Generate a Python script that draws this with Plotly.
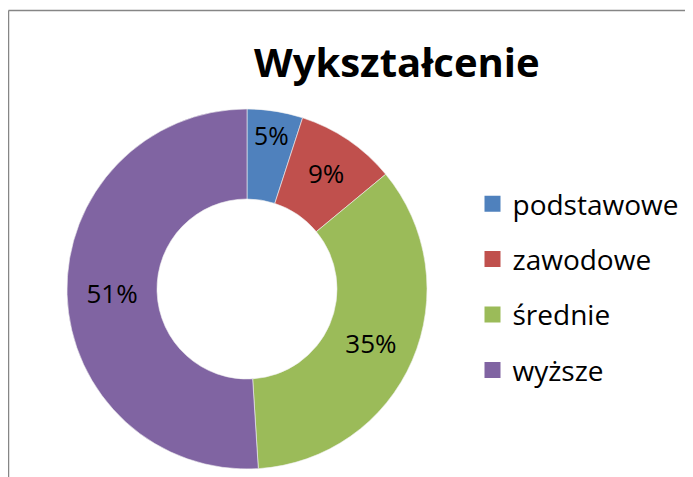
import plotly.graph_objects as go

labels = ["podstawowe", "zawodowe", "średnie", "wyższe"]
values = [5, 9, 35, 51]
colors = ["#4F81BD", "#C0504D", "#9BBB59", "#8064A2"]
title_text = "Wykształcenie"

W, H = 693, 477
OFF = 8  # page body margin

def px(x):
    return (x - OFF) / W

def py(y):
    return 1 - (y - OFF) / H

fig = go.Figure()

fig.add_trace(go.Pie(
    labels=labels,
    values=values,
    marker=dict(colors=colors, line=dict(color="#f0f0f0", width=0.6)),
    hole=0.5,
    sort=False,
    direction="clockwise",
    rotation=0,
    textinfo="percent",
    texttemplate="%{percent:.0%}",
    textposition="inside",
    insidetextorientation="horizontal",
    textfont=dict(family="Open Sans", size=26, color="#000000"),
    showlegend=False,
    domain=dict(x=[px(67), px(427)], y=[py(469), py(109)]),
    hoverinfo="label+percent",
))

for lab, col in zip(labels, colors):
    fig.add_trace(go.Scatter(
        x=[None], y=[None], mode="markers",
        marker=dict(symbol="square", size=18, color=col),
        name=lab, legendgroup=lab, showlegend=True,
    ))

fig.update_layout(
    width=W, height=H,
    margin=dict(l=0, r=0, t=0, b=0),
    paper_bgcolor="white",
    plot_bgcolor="white",
    xaxis=dict(visible=False),
    yaxis=dict(visible=False),
    showlegend=True,
    legend=dict(
        x=px(472.5), y=py(179), xanchor="left", yanchor="top",
        font=dict(family="Open Sans", size=28, color="#000000"),
        tracegroupgap=16,
        bgcolor="rgba(0,0,0,0)",
        itemsizing="trace",
    ),
    annotations=[dict(
        text="<b>" + title_text + "</b>",
        x=px(397), y=py(62), xref="paper", yref="paper",
        xanchor="center", yanchor="middle", showarrow=False,
        font=dict(family="Open Sans", size=40, color="#000000"),
    )],
    shapes=[
        dict(type="line", xref="paper", yref="paper",
             x0=px(8.5), x1=1.2, y0=py(10.5), y1=py(10.5),
             line=dict(color="#868686", width=1.5)),
        dict(type="line", xref="paper", yref="paper",
             x0=px(8.5), x1=px(8.5), y0=py(10.5), y1=-0.2,
             line=dict(color="#868686", width=1.5)),
    ],
)

fig.write_html("out.html")
